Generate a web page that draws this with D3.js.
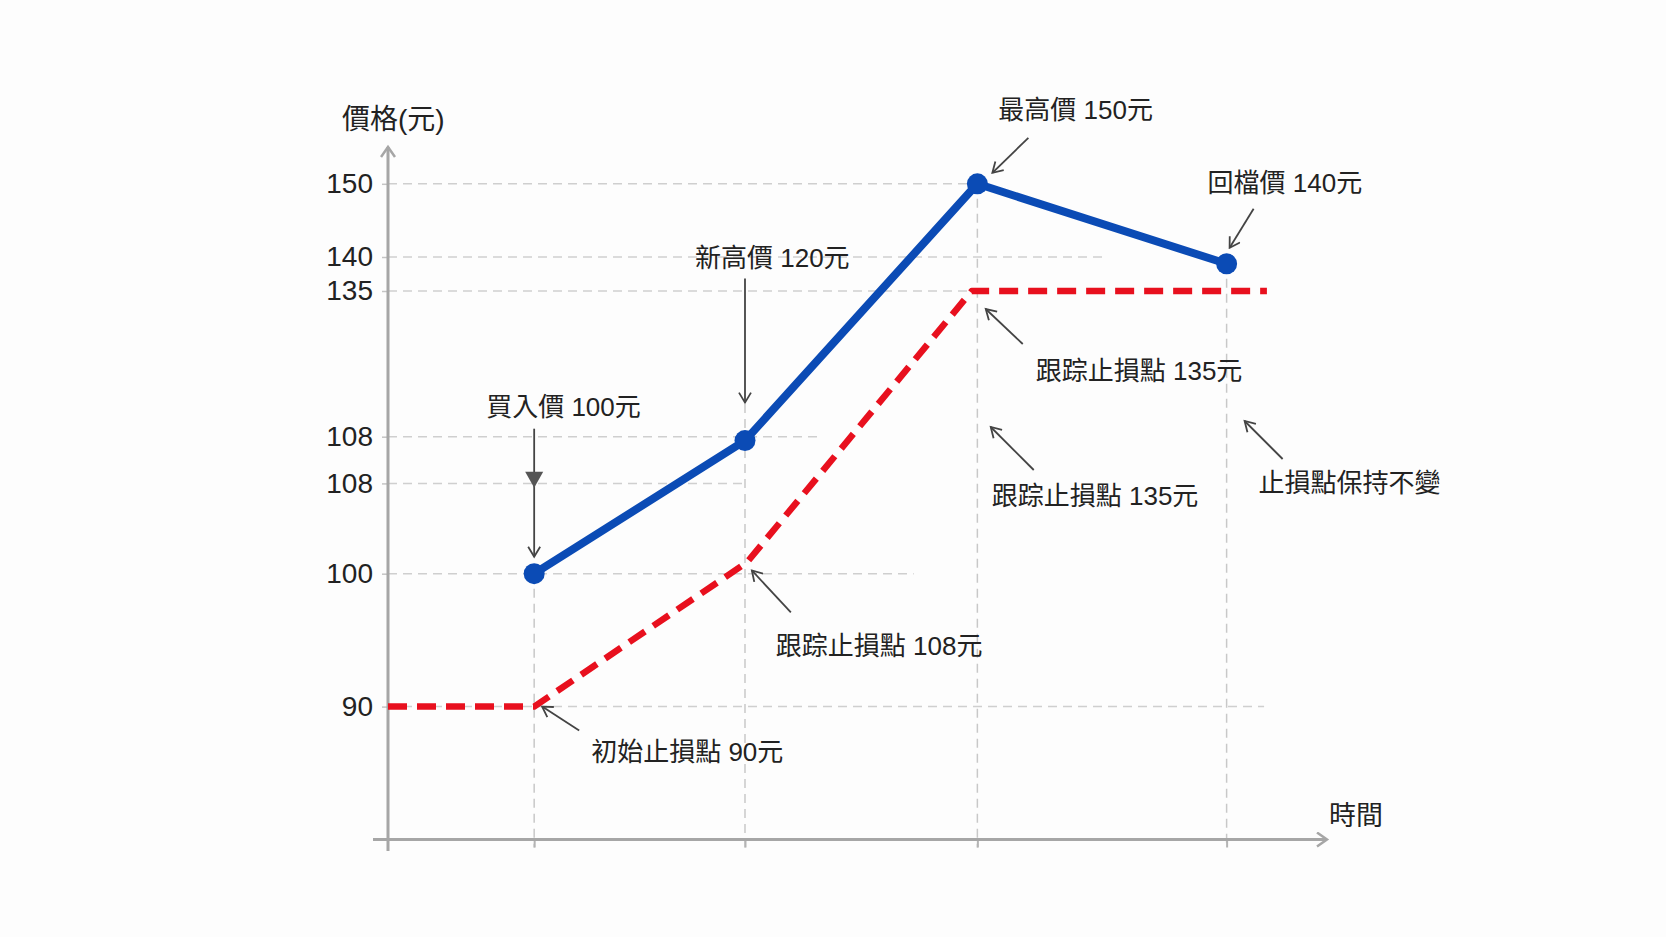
<!DOCTYPE html>
<html>
<head>
<meta charset="utf-8">
<script src="https://cdn.jsdelivr.net/npm/d3@7/dist/d3.min.js"></script>
<style>
  body { margin: 0; background: #fdfdfd; }
  text { font-family: "Liberation Sans", "Noto Sans CJK TC", sans-serif; fill: #222; }
</style>
</head>
<body>
<script>
// Axis titles
const priceTitle = "價格(元)";
const timeTitle = "時間";

// Price line (blue) - time position and price
const priceTimes = [1.56, 3.81, 6.29, 8.95];
const priceValues = [100, 119, 150, 139];

// Trailing stop line (red, dashed)
const stopTimes = [0, 1.56, 3.83, 6.23, 9.38];
const stopValues = [90, 90, 101, 135, 135];

// Y ticks as printed on the picture
const yTickValues = [150, 140, 135, 120, 108, 100, 90];
const yTickLabels = ["150", "140", "135", "108", "108", "100", "90"];
// how far each horizontal guide runs (in time units)
const gridEnds = [6.29, 7.65, 6.23, 4.59, 3.81, 5.61, 9.35];

// Annotation texts
const noteTexts = [
  "最高價 150元",
  "回檔價 140元",
  "新高價 120元",
  "買入價 100元",
  "跟踪止損點 135元",
  "跟踪止損點 135元",
  "止損點保持不變",
  "跟踪止損點 108元",
  "初始止損點 90元"
];

const W = 1666, H = 937;
const svg = d3.select("body").append("svg")
  .attr("width", W)
  .attr("height", H);

// Scales - y is piecewise because the tick spacing is not even
const x = d3.scaleLinear().domain([0, 10]).range([388, 1325]);
const y = d3.scaleLinear()
  .domain([90, 100, 108, 120, 135, 140, 150])
  .range([706.6, 573.7, 483.4, 436.7, 291, 257, 183.8]);

const axisY = 839.5;

// Markers
const defs = svg.append("defs");
defs.append("marker")
  .attr("id", "note-head")
  .attr("viewBox", "0 0 14 14")
  .attr("refX", 12).attr("refY", 7)
  .attr("markerWidth", 14).attr("markerHeight", 14)
  .attr("markerUnits", "userSpaceOnUse")
  .attr("orient", "auto")
  .append("path")
  .attr("d", "M2,1 L12,7 L2,13")
  .attr("fill", "none")
  .attr("stroke", "#444")
  .attr("stroke-width", 1.8);

defs.append("marker")
  .attr("id", "axis-head")
  .attr("viewBox", "0 0 16 16")
  .attr("refX", 13).attr("refY", 8)
  .attr("markerWidth", 16).attr("markerHeight", 16)
  .attr("markerUnits", "userSpaceOnUse")
  .attr("orient", "auto")
  .append("path")
  .attr("d", "M3,1 L13,8 L3,15")
  .attr("fill", "none")
  .attr("stroke", "#a6a6a6")
  .attr("stroke-width", 2.5);

// Horizontal guides
svg.append("g")
  .selectAll("line")
  .data(yTickValues)
  .join("line")
  .attr("x1", x(0))
  .attr("x2", (d, i) => x(gridEnds[i]))
  .attr("y1", d => y(d))
  .attr("y2", d => y(d))
  .attr("stroke", "#cfcfcf")
  .attr("stroke-width", 1.5)
  .attr("stroke-dasharray", "9,6");

// Vertical guides from each price point down to the time axis
svg.append("g")
  .selectAll("line")
  .data(priceTimes)
  .join("line")
  .attr("x1", d => x(d))
  .attr("x2", d => x(d))
  .attr("y1", (d, i) => i === 1 ? 404 : y(priceValues[i]))
  .attr("y2", axisY + 8)
  .attr("stroke", "#c8c8c8")
  .attr("stroke-width", 1.5)
  .attr("stroke-dasharray", "9,6");

// Y axis with ticks
const yAxis = d3.axisLeft(y)
  .tickValues(yTickValues)
  .tickFormat((d, i) => yTickLabels[i])
  .tickSizeInner(6)
  .tickSizeOuter(0)
  .tickPadding(9);

const gy = svg.append("g")
  .attr("transform", `translate(${x(0)},0)`)
  .call(yAxis);
gy.select(".domain").remove();
gy.selectAll(".tick line").attr("stroke", "#c4c4c4").attr("stroke-width", 1.5);
gy.selectAll(".tick text")
  .style("font-family", '"Liberation Sans", "Noto Sans CJK TC", sans-serif')
  .style("font-size", "28px")
  .attr("fill", "#222");

svg.append("line")
  .attr("x1", x(0)).attr("x2", x(0))
  .attr("y1", 851).attr("y2", 147)
  .attr("stroke", "#a6a6a6")
  .attr("stroke-width", 3)
  .attr("marker-end", "url(#axis-head)");

// X axis with small ticks at each price point
const xAxis = d3.axisBottom(x)
  .tickValues(priceTimes)
  .tickFormat("")
  .tickSizeInner(8)
  .tickSizeOuter(0);
const gx = svg.append("g")
  .attr("transform", `translate(0,${axisY})`)
  .call(xAxis);
gx.select(".domain").remove();
gx.selectAll(".tick line").attr("stroke", "#b4b4b4").attr("stroke-width", 2);

svg.append("line")
  .attr("x1", 373).attr("x2", x(10) + 2)
  .attr("y1", axisY).attr("y2", axisY)
  .attr("stroke", "#a6a6a6")
  .attr("stroke-width", 3)
  .attr("marker-end", "url(#axis-head)");

// Axis titles
svg.append("text")
  .attr("x", 342).attr("y", 119)
  .attr("dominant-baseline", "central")
  .style("font-size", "28px")
  .text(priceTitle);

svg.append("text")
  .attr("x", 1329).attr("y", 816)
  .attr("dominant-baseline", "central")
  .style("font-size", "27px")
  .text(timeTitle);

// Trailing stop line
const stopLine = d3.line()
  .x((d, i) => x(stopTimes[i]))
  .y(d => y(d));

svg.append("path")
  .datum(stopValues)
  .attr("fill", "none")
  .attr("stroke", "#e8101e")
  .attr("stroke-width", 6.5)
  .attr("stroke-dasharray", "19,10")
  .attr("stroke-linejoin", "round")
  .attr("d", stopLine);

// Price line
const priceLine = d3.line()
  .x((d, i) => x(priceTimes[i]))
  .y(d => y(d));

svg.append("path")
  .datum(priceValues)
  .attr("fill", "none")
  .attr("stroke", "#0b4bb5")
  .attr("stroke-width", 8)
  .attr("stroke-linejoin", "round")
  .attr("d", priceLine);

svg.append("g")
  .selectAll("circle")
  .data(priceValues)
  .join("circle")
  .attr("cx", (d, i) => x(priceTimes[i]))
  .attr("cy", d => y(d))
  .attr("r", 10.5)
  .attr("fill", "#0b4bb5");

// Annotations: anchor point + offsets for arrow tip, arrow tail and label
const P = i => [x(priceTimes[i]), y(priceValues[i])];
const S = i => [x(stopTimes[i]), y(stopValues[i])];
const noteLayout = [
  { at: P(2), tip: [15, -11], tail: [51, -46], label: [21, -74] },
  { at: P(3), tip: [3, -16], tail: [27, -55], label: [-19, -81] },
  { at: P(1), tip: [0, -38], tail: [0, -162], label: [-50, -183] },
  { at: P(0), tip: [0, -17], tail: [0, -145], label: [-48, -167] },
  { at: S(3), tip: [14, 18], tail: [51, 53], label: [64, 80] },
  { at: S(3), tip: [19, 136], tail: [62, 179], label: [20, 205] },
  { at: [x(priceTimes[3]), y(135)], tip: [18, 130], tail: [56, 168], label: [32, 192] },
  { at: S(2), tip: [5, 8], tail: [44, 50], label: [29, 84] },
  { at: S(1), tip: [8, 0], tail: [45, 24], label: [57, 45] }
];

const notes = svg.append("g");
noteLayout.forEach((n, i) => {
  notes.append("line")
    .attr("x1", n.at[0] + n.tail[0]).attr("y1", n.at[1] + n.tail[1])
    .attr("x2", n.at[0] + n.tip[0]).attr("y2", n.at[1] + n.tip[1])
    .attr("stroke", "#444")
    .attr("stroke-width", 1.8)
    .attr("marker-end", "url(#note-head)");
  notes.append("text")
    .attr("x", n.at[0] + n.label[0])
    .attr("y", n.at[1] + n.label[1])
    .attr("dominant-baseline", "central")
    .style("font-size", "26px")
    .text(noteTexts[i]);
});

// filled triangle on the buy-price arrow
const buy = P(0);
notes.append("path")
  .attr("d", `M${buy[0] - 9},${buy[1] - 102} L${buy[0] + 9},${buy[1] - 102} L${buy[0]},${buy[1] - 86} Z`)
  .attr("fill", "#555");
</script>
</body>
</html>
